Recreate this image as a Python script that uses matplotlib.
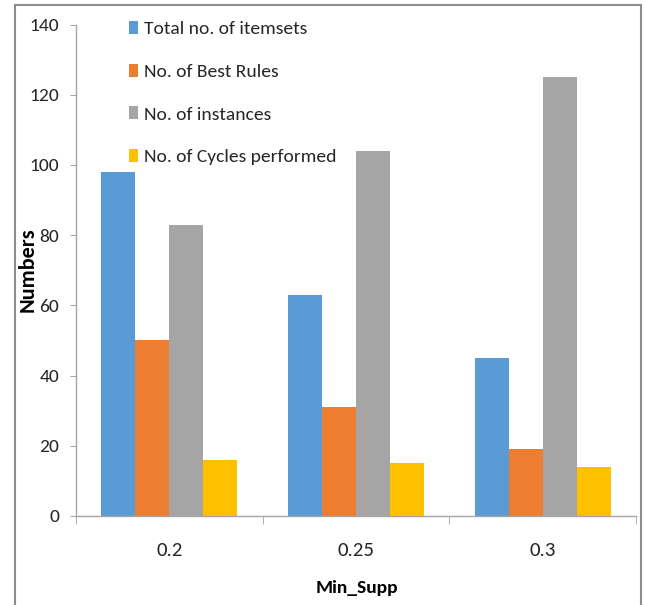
import matplotlib
matplotlib.use("Agg")
import matplotlib.pyplot as plt
from matplotlib import font_manager
from matplotlib.patches import Rectangle
import numpy as np

categories = ["0.2", "0.25", "0.3"]
series_names = ["Total no. of itemsets", "No. of Best Rules", "No. of instances", "No. of Cycles performed"]
total_itemsets = [98, 63, 45]
best_rules = [50, 31, 19]
instances = [83, 104, 125]
cycles = [16, 15, 14]
colors = ["#5B9BD5", "#ED7D31", "#A5A5A5", "#FFC000"]
y_ticks = [0, 20, 40, 60, 80, 100, 120, 140]

avail = {f.name for f in font_manager.fontManager.ttflist}
fam = None
for cand in ["Carlito", "Liberation Sans Narrow", "Open Sans", "DejaVu Sans"]:
    if cand in avail:
        fam = cand
        break
plt.rcParams["font.family"] = [fam, "DejaVu Sans"]

W, H = 645, 605
fig = plt.figure(figsize=(W / 100, H / 100), dpi=100)
ax = fig.add_axes([76 / W, 1 - 516 / H, (636 - 76) / W, (516 - 24.5) / H])

data = [total_itemsets, best_rules, instances, cycles]
x = np.arange(len(categories))
bw = 0.182
for i, (vals, name, c) in enumerate(zip(data, series_names, colors)):
    ax.bar(x + (i - 1.5) * bw, vals, width=bw, color=c, label=name)

ax.set_xlim(-0.5, 2.5)
ax.set_ylim(0, 140)
ax.set_yticks(y_ticks)
ax.set_xticks(x)
ax.set_xticklabels(categories)
ax.set_xticks([-0.5, 0.5, 1.5, 2.5], minor=True)
ax.tick_params(axis="x", which="major", length=0, pad=19, labelsize=15, colors="#262626")
ax.tick_params(axis="x", which="minor", length=6, color="#a6a6a6", direction="out")
ax.tick_params(axis="y", length=4, color="#a6a6a6", pad=8, labelsize=14, labelcolor="#262626")
for s in ["top", "right"]:
    ax.spines[s].set_visible(False)
for s in ["left", "bottom"]:
    ax.spines[s].set_color("#a6a6a6")
    ax.spines[s].set_linewidth(1.0)

fig.text(28 / W, 1 - 270 / H, "Numbers", rotation=90, ha="center", va="center",
         fontsize=16, fontweight="bold", color="#000000")
fig.text(357 / W, 1 - 588 / H, "Min_Supp", ha="center", va="center",
         fontsize=14, fontweight="bold", color="#000000")

fig.legend(loc="upper left", bbox_to_anchor=(129 / W, 1 - 21 / H), frameon=False,
           fontsize=14, handlelength=0.47, handleheight=0.64, handletextpad=0.3,
           labelspacing=1.36, borderpad=0, borderaxespad=0, labelcolor="#262626")

fig.patches.append(Rectangle((15 / W, -0.02), (641 - 15) / W, 1 - 5.3 / H + 0.02,
                             transform=fig.transFigure, fill=False,
                             edgecolor="#8c8c8c", linewidth=1.5, zorder=-1))

fig.savefig("out.png", dpi=100)
